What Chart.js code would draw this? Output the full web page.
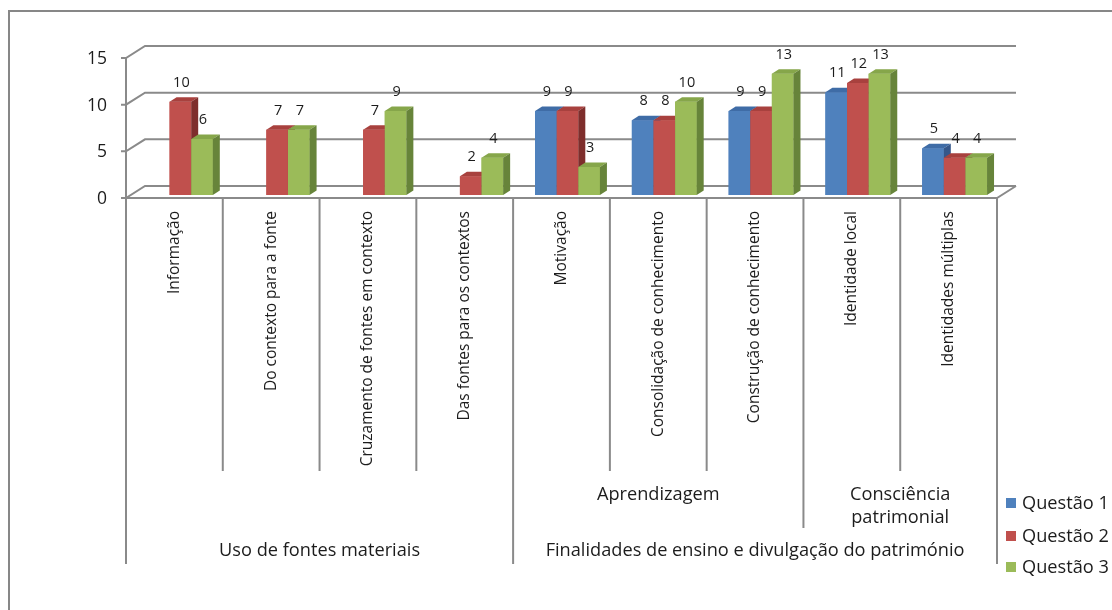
<!DOCTYPE html>
<html>
<head>
<meta charset="utf-8">
<script src="https://cdn.jsdelivr.net/npm/chart.js@4.4.1/dist/chart.umd.min.js"></script>
<style>
html,body{margin:0;padding:0;background:#fff;}
#wrap{width:1112px;height:610px;position:relative;}
</style>
</head>
<body>
<div id="wrap"><canvas id="c" width="1112" height="610"></canvas></div>
<script>
const categories = ['Informação', 'Do contexto para a fonte', 'Cruzamento de fontes em contexto', 'Das fontes para os contextos', 'Motivação', 'Consolidação de conhecimento', 'Construção de conhecimento', 'Identidade local', 'Identidades múltiplas'];
const seriesNames = ['Questão 1', 'Questão 2', 'Questão 3'];
const questao1 = [null, null, null, null, 9, 8, 9, 11, 5];
const questao2 = [10, 7, 7, 2, 9, 8, 9, 12, 4];
const questao3 = [6, 7, 9, 4, 3, 10, 13, 13, 4];
const yTicks = [0, 5, 10, 15];
const subGroups = [
  {label: [], from: 0, to: 3},
  {label: ['Aprendizagem'], from: 4, to: 6},
  {label: ['Consciência', 'patrimonial'], from: 7, to: 8}
];
const topGroups = [
  {label: 'Uso de fontes materiais', from: 0, to: 3},
  {label: 'Finalidades de ensino e divulgação do património', from: 4, to: 8}
];

const front = ['#4F81BD', '#C0504D', '#9BBB59'];
const topC = ['#3F6CA6', '#A8413E', '#86A64A'];
const sideC = ['#35578A', '#7E2E2C', '#67843A'];

const FONT = '"Open Sans", "DejaVu Sans", sans-serif';
const GRID = '#8a8a8a';
const TXT = '#1c1c1c';
// 3D geometry
const SHX = -6, SHY = 3;     // front plane offset vs bar plane
const DX = 19, DY = -12;     // full depth of walls
const BDX = 7, BDY = -4.5;   // bar depth

const plugin3d = {
  id: 'excel3d',
  beforeDatasetsDraw(chart) {
    const ctx = chart.ctx, ca = chart.chartArea;
    const ys = chart.scales.y;
    const L = ca.left + SHX, R = ca.right + SHX;
    ctx.save();
    // border
    ctx.strokeStyle = '#878787'; ctx.lineWidth = 2;
    ctx.strokeRect(9, 11, 1200, 700);
    ctx.strokeStyle = GRID; ctx.lineWidth = 2;
    // gridlines, left wall diagonals
    yTicks.forEach(v => {
      const yf = ys.getPixelForValue(v) + SHY;
      ctx.beginPath();
      ctx.moveTo(L - 5, yf); ctx.lineTo(L, yf);
      ctx.lineTo(L + DX, yf + DY); ctx.lineTo(R + DX, yf + DY);
      ctx.stroke();
    });
    // front vertical axis
    ctx.beginPath();
    ctx.moveTo(L, ys.getPixelForValue(yTicks[yTicks.length - 1]) + SHY);
    ctx.lineTo(L, ys.getPixelForValue(0) + SHY);
    ctx.stroke();
    // floor front & right
    const y0 = ys.getPixelForValue(0) + SHY;
    ctx.beginPath();
    ctx.moveTo(L, y0); ctx.lineTo(R, y0); ctx.lineTo(R + DX, y0 + DY);
    ctx.stroke();
    // y tick labels
    ctx.fillStyle = TXT; ctx.font = '17.5px ' + FONT;
    ctx.textAlign = 'right'; ctx.textBaseline = 'middle';
    yTicks.forEach(v => {
      ctx.fillText(String(v), L - 19, ys.getPixelForValue(v) + SHY + 1);
    });
    ctx.restore();
  },
  afterDatasetsDraw(chart) {
    const ctx = chart.ctx, ca = chart.chartArea;
    const xs = chart.scales.x;
    const metas = [0, 1, 2].map(i => chart.getDatasetMeta(i));
    ctx.save();
    // 3D bars, drawn in order so each front face covers the previous side face
    for (let j = 0; j < categories.length; j++) {
      for (let d = 0; d < 3; d++) {
        const v = chart.data.datasets[d].data[j];
        if (v === null || v === undefined) continue;
        const el = metas[d].data[j];
        const x1 = el.x - el.width / 2, x2 = el.x + el.width / 2;
        const yt = el.y, yb = el.base;
        ctx.fillStyle = front[d];
        ctx.fillRect(x1, yt, x2 - x1, yb - yt);
        ctx.fillStyle = topC[d];
        ctx.beginPath();
        ctx.moveTo(x1, yt); ctx.lineTo(x1 + BDX, yt + BDY);
        ctx.lineTo(x2 + BDX, yt + BDY); ctx.lineTo(x2, yt); ctx.closePath(); ctx.fill();
        ctx.fillStyle = sideC[d];
        ctx.beginPath();
        ctx.moveTo(x2, yt); ctx.lineTo(x2 + BDX, yt + BDY);
        ctx.lineTo(x2 + BDX, yb + BDY); ctx.lineTo(x2, yb); ctx.closePath(); ctx.fill();
      }
    }
    // data labels
    ctx.fillStyle = TXT; ctx.font = '14.5px ' + FONT;
    ctx.textAlign = 'center'; ctx.textBaseline = 'middle';
    for (let d = 0; d < 3; d++) {
      metas[d].data.forEach((el, j) => {
        const v = chart.data.datasets[d].data[j];
        if (v === null || v === undefined) return;
        ctx.fillText(String(v), el.x + 1, el.y - 19);
      });
    }
    // category separators & labels
    const cw = (ca.right - ca.left) / categories.length;
    const bx = i => ca.left + SHX + i * cw;
    const y0 = chart.scales.y.getPixelForValue(0) + SHY;
    ctx.strokeStyle = GRID; ctx.lineWidth = 2;
    const bottomFor = i => {
      if (topGroups.some(g => g.from === i) || i === categories.length) return 564;
      if (subGroups.some(g => g.from === i)) return 528;
      return 471;
    };
    for (let i = 0; i <= categories.length; i++) {
      ctx.beginPath(); ctx.moveTo(bx(i), y0); ctx.lineTo(bx(i), bottomFor(i)); ctx.stroke();
    }
    ctx.fillStyle = TXT;
    ctx.font = '15.5px ' + FONT;
    ctx.textBaseline = 'middle'; ctx.textAlign = 'right';
    categories.forEach((c, i) => {
      const cx = xs.getPixelForValue(i) + SHX;
      ctx.save();
      ctx.translate(cx, 211);
      ctx.rotate(-Math.PI / 2);
      ctx.fillText(c, 0, 0);
      ctx.restore();
    });
    ctx.font = '18.2px ' + FONT; ctx.textAlign = 'center';
    subGroups.forEach(g => {
      const cx = (bx(g.from) + bx(g.to + 1)) / 2;
      g.label.forEach((t, k) => ctx.fillText(t, cx, 495 + k * 22.5));
    });
    topGroups.forEach(g => {
      const cx = (bx(g.from) + bx(g.to + 1)) / 2;
      ctx.fillText(g.label, cx, 551);
    });
    // legend
    const ly = [503, 536, 567];
    ctx.textAlign = 'left';
    seriesNames.forEach((s, d) => {
      ctx.fillStyle = front[d];
      ctx.fillRect(1006, ly[d] - 5, 10, 10);
      ctx.fillStyle = TXT;
      ctx.fillText(s, 1022, ly[d] + 1);
    });
    ctx.restore();
  }
};

new Chart(document.getElementById('c'), {
  type: 'bar',
  data: {
    labels: categories,
    datasets: [
      {label: seriesNames[0], data: questao1, backgroundColor: front[0]},
      {label: seriesNames[1], data: questao2, backgroundColor: front[1]},
      {label: seriesNames[2], data: questao3, backgroundColor: front[2]}
    ]
  },
  options: {
    responsive: false,
    animation: false,
    devicePixelRatio: 1,
    layout: {padding: {left: 132, right: 109, top: 55, bottom: 415}},
    datasets: {bar: {categoryPercentage: 0.67, barPercentage: 1, borderWidth: 0}},
    scales: {
      x: {display: false},
      y: {display: false, min: 0, max: 15}
    },
    plugins: {legend: {display: false}, tooltip: {enabled: false}}
  },
  plugins: [plugin3d]
});
</script>
</body>
</html>
